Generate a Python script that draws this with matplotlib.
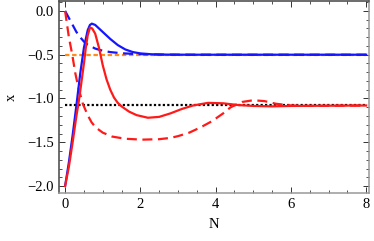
import matplotlib
matplotlib.use("Agg")
import matplotlib.pyplot as plt
from matplotlib.ticker import MultipleLocator

# ---- data ----
N_blue_solid = [0, 0.1, 0.2, 0.3, 0.4, 0.5, 0.6, 0.66, 0.71, 0.8, 0.9, 1.0, 1.2, 1.4, 1.6, 1.8, 2.0, 2.3, 2.7, 3.2, 8]
x_blue_solid = [-2.0, -1.73, -1.42, -1.08, -0.72, -0.42, -0.22, -0.16, -0.145, -0.16, -0.2, -0.24, -0.32, -0.39, -0.44, -0.47, -0.485, -0.495, -0.499, -0.5, -0.5]

N_blue_dash = [0, 0.1, 0.2, 0.3, 0.4, 0.5, 0.6, 0.8, 1.0, 1.2, 1.5, 1.8, 2.2, 2.7, 3.5, 8]
x_blue_dash = [0.0, -0.08, -0.16, -0.24, -0.3, -0.35, -0.385, -0.43, -0.455, -0.47, -0.483, -0.49, -0.496, -0.499, -0.5, -0.5]

N_red_solid = [0, 0.1, 0.2, 0.3, 0.35, 0.4, 0.5, 0.55, 0.6, 0.66, 0.72, 0.8, 0.9, 1.0, 1.1, 1.2, 1.3, 1.4, 1.5, 1.7, 1.9, 2.2, 2.5, 2.8, 3.1, 3.4, 3.8, 4.2, 4.6, 5.0, 5.5, 6.0, 8]
x_red_solid = [-2.0, -1.78, -1.5, -1.2, -1.07, -0.92, -0.6, -0.42, -0.28, -0.19, -0.2, -0.26, -0.42, -0.62, -0.78, -0.9, -0.99, -1.05, -1.09, -1.15, -1.19, -1.22, -1.21, -1.17, -1.12, -1.08, -1.05, -1.055, -1.075, -1.085, -1.09, -1.085, -1.08]

N_red_dash = [0, 0.1, 0.19, 0.27, 0.35, 0.47, 0.6, 0.7, 0.81, 1.0, 1.25, 1.6, 2.05, 2.5, 2.8, 3.0, 3.3, 3.6, 3.9, 4.2, 4.4, 4.7, 5.0, 5.3, 5.6, 6.0, 6.5, 8]
x_red_dash = [0.0, -0.3, -0.5, -0.71, -0.87, -1.06, -1.19, -1.27, -1.33, -1.39, -1.435, -1.46, -1.47, -1.465, -1.45, -1.43, -1.39, -1.33, -1.26, -1.17, -1.1, -1.04, -1.02, -1.03, -1.06, -1.08, -1.085, -1.08]

level_blue = -0.5
level_red = -1.08
N_range = [0, 8]

x_ticks = [0, 2, 4, 6, 8]
y_ticks = [0.0, -0.5, -1.0, -1.5, -2.0]

plt.rcParams['font.family'] = ['Liberation Serif', 'DejaVu Serif']

fig = plt.figure(figsize=(3.74, 2.41), dpi=100)
ax = fig.add_axes([0.158, 0.199, 0.829, 0.797])

ax.plot(N_range, [level_blue, level_blue], color='#FF8C1A', lw=1.6, ls=(0, (2, 1.2)), zorder=2)
ax.plot(N_range, [level_red, level_red], color='black', lw=1.6, ls=(0, (1, 1)), zorder=2)

ax.plot(N_blue_dash, x_blue_dash, color='#1515FF', lw=1.6, ls=(0, (4.5, 2.5)), zorder=3)
ax.plot(N_red_dash, x_red_dash, color='#FF1A1A', lw=1.6, ls=(0, (4.5, 2.5)), zorder=3)
ax.plot(N_blue_solid, x_blue_solid, color='#1515FF', lw=1.6, zorder=4)
ax.plot(N_red_solid, x_red_solid, color='#FF1A1A', lw=1.6, zorder=5)

ax.set_xlim(-0.16, 8.08)
ax.set_ylim(-2.08, 0.114)
ax.set_xticks(x_ticks)
ax.set_xticklabels([str(t) for t in x_ticks])
ax.set_yticks(y_ticks)
ax.set_yticklabels([f"{t:.1f}".replace('-', '\u2212') for t in y_ticks])
ax.xaxis.set_minor_locator(MultipleLocator(0.5))
ax.yaxis.set_minor_locator(MultipleLocator(0.1))
ax.tick_params(which='both', direction='in', top=True, right=True, labelsize=10.5, colors='#333333', labelcolor='black')
ax.tick_params(which='major', length=4, width=0.7)
ax.tick_params(which='minor', length=2, width=0.6)
ax.spines['left'].set_color('#444444')
ax.spines['top'].set_color('#444444')
ax.spines['bottom'].set_color('#999999')
ax.spines['right'].set_color('#999999')
for s in ax.spines.values():
    s.set_linewidth(1.1)

ax.set_xlabel('N', fontsize=10.5, labelpad=5)
ax.set_ylabel('x', fontsize=10.5, labelpad=7)

fig.savefig('out.png', dpi=100)
